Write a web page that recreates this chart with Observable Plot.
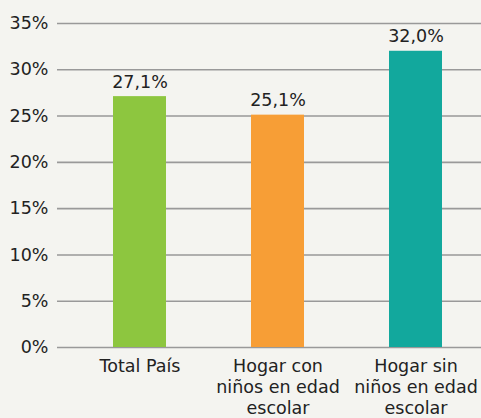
<!DOCTYPE html>
<html>
<head>
<meta charset="utf-8">
<script src="https://cdn.jsdelivr.net/npm/d3@7"></script>
<script src="https://cdn.jsdelivr.net/npm/@observablehq/plot@0.6"></script>
<style>
  html, body { margin: 0; padding: 0; background: #f4f4f0; }
  #chart svg { display: block; }
</style>
</head>
<body>
<div id="chart"></div>
<script>
const categories = ["Total País", "Hogar con\nniños en edad\nescolar", "Hogar sin\nniños en edad\nescolar"];
const values = [27.1, 25.1, 32.0];
const valueLabels = ["27,1%", "25,1%", "32,0%"];
const colors = ["#8dc63f", "#f79e36", "#12a89d"];
const yTicks = [0, 5, 10, 15, 20, 25, 30, 35];

const data = categories.map((c, i) => ({category: c, value: values[i], label: valueLabels[i], color: colors[i]}));

const FS = 17.5;
const chart = Plot.plot({
  width: 481,
  height: 418,
  marginLeft: 57,
  marginRight: 0,
  marginTop: 23,
  marginBottom: 71,
  style: {background: "#f4f4f0", fontFamily: "'DejaVu Sans', sans-serif", fontWeight: 400, fontSize: FS + "px", color: "#222"},
  x: {domain: categories, range: [112, 442], paddingInner: 0.617, paddingOuter: 0, label: null},
  y: {domain: [0, 35], label: null},
  marks: [
    Plot.ruleY(yTicks, {stroke: "#999", strokeWidth: 1.6, strokeOpacity: 1}),
    Plot.barY(data, {x: "category", y: "value", fill: "color"}),
    Plot.text(data, {x: "category", y: "value", text: "label", lineAnchor: "bottom", dy: -9, fontSize: FS, fill: "#222"}),
    Plot.axisY({ticks: yTicks, tickFormat: d => d + "%", tickSize: 0, tickPadding: 9, fontSize: FS, fill: "#222"}),
    Plot.axisX({tickSize: 0, tickPadding: 9, lineHeight: 1.22, fontSize: FS, fill: "#222"})
  ]
});
document.getElementById("chart").appendChild(chart);
</script>
</body>
</html>
